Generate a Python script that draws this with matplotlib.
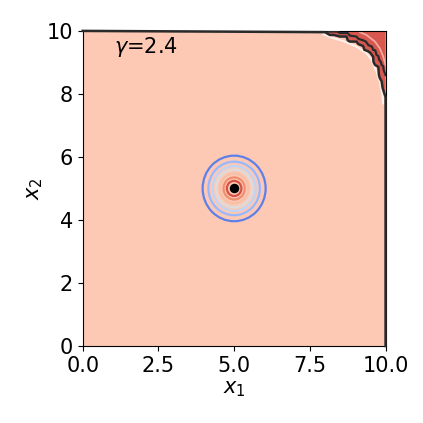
import matplotlib
matplotlib.use('Agg')
import matplotlib.pyplot as plt
from matplotlib.patches import Circle

# centre point and the rings around it (radius, coolwarm position)
centre = (5.0, 5.0)
ring_radii = [1.04, 0.85, 0.71, 0.60, 0.47, 0.35, 0.24]
ring_levels = [0.12, 0.28, 0.40, 0.50, 0.64, 0.78, 0.90]

# corner contour lines (x1, x2)
outer_x = [0.0, 7.83, 8.00, 8.16, 8.30, 8.49, 8.71, 8.75, 8.82, 9.04, 9.10, 9.26, 9.30, 9.43, 9.50,
           9.59, 9.60, 9.65, 9.76, 9.78, 9.81, 9.87, 9.90, 9.94, 10.0, 10.0]
outer_y = [10.0, 9.96, 9.96, 9.87, 9.87, 9.82, 9.82, 9.70, 9.66, 9.66, 9.58, 9.52, 9.40, 9.35, 9.30,
           9.18, 9.02, 8.92, 8.86, 8.60, 8.50, 8.40, 8.20, 8.07, 7.9, 0.0]
white_x = [7.94, 8.27, 8.60, 9.04, 9.37, 9.54, 9.70, 9.81, 9.90, 9.92]
white_y = [9.90, 9.77, 9.68, 9.50, 9.29, 9.08, 8.71, 8.39, 7.97, 7.70]
inner_x = [8.11, 8.40, 8.49, 8.75, 8.82, 9.04, 9.10, 9.26, 9.35, 9.43, 9.55, 9.59, 9.66, 9.70,
           9.76, 9.79, 9.84, 9.87, 9.92, 9.94, 10.0]
inner_y = [9.98, 9.98, 9.93, 9.93, 9.85, 9.82, 9.75, 9.70, 9.66, 9.55, 9.50, 9.40, 9.38, 9.24,
           9.20, 9.08, 9.02, 8.92, 8.88, 8.75, 8.60]
pale_x = [9.15, 9.37, 9.65, 9.81, 9.92, 10.0]
pale_y = [9.96, 9.87, 9.66, 9.45, 9.19, 8.92]

fig = plt.figure(figsize=(4.23, 4.23), dpi=100)
ax = fig.add_axes([0.1955, 0.182, 0.716, 0.745])
ax.set_facecolor('#fdc9b5')

# red corner region
ax.fill(outer_x[1:-1] + [10.0], outer_y[1:-1] + [10.0], color='#d8574f', lw=0, zorder=1)

ax.plot(white_x, white_y, color='#fff0ea', lw=1.5, zorder=2)
ax.plot(pale_x, pale_y, color='#f2aaa0', lw=1.3, zorder=2)
ax.plot(outer_x, outer_y, color='#2a2a2a', lw=1.8, zorder=3, clip_on=False)
ax.plot(inner_x, inner_y, color='#2a2a2a', lw=1.6, zorder=3)

for r, lev in zip(ring_radii, ring_levels):
    ax.add_patch(Circle(centre, r, fill=False, ec=plt.cm.coolwarm(lev), lw=1.6, zorder=4))

ax.scatter([centre[0]], [centre[1]], s=34, c='k', zorder=5)

ax.text(1.05, 9.3, r'$\gamma$=2.4', fontsize=15)

ax.set_xlim(0, 10)
ax.set_ylim(0, 10)
ax.set_xticks([0, 2.5, 5, 7.5, 10])
ax.set_yticks([0, 2, 4, 6, 8, 10])
ax.tick_params(labelsize=15)
ax.set_xlabel('$x_1$', fontsize=15, labelpad=2)
ax.set_ylabel('$x_2$', fontsize=15, labelpad=1)

fig.savefig('out.png', dpi=100)
